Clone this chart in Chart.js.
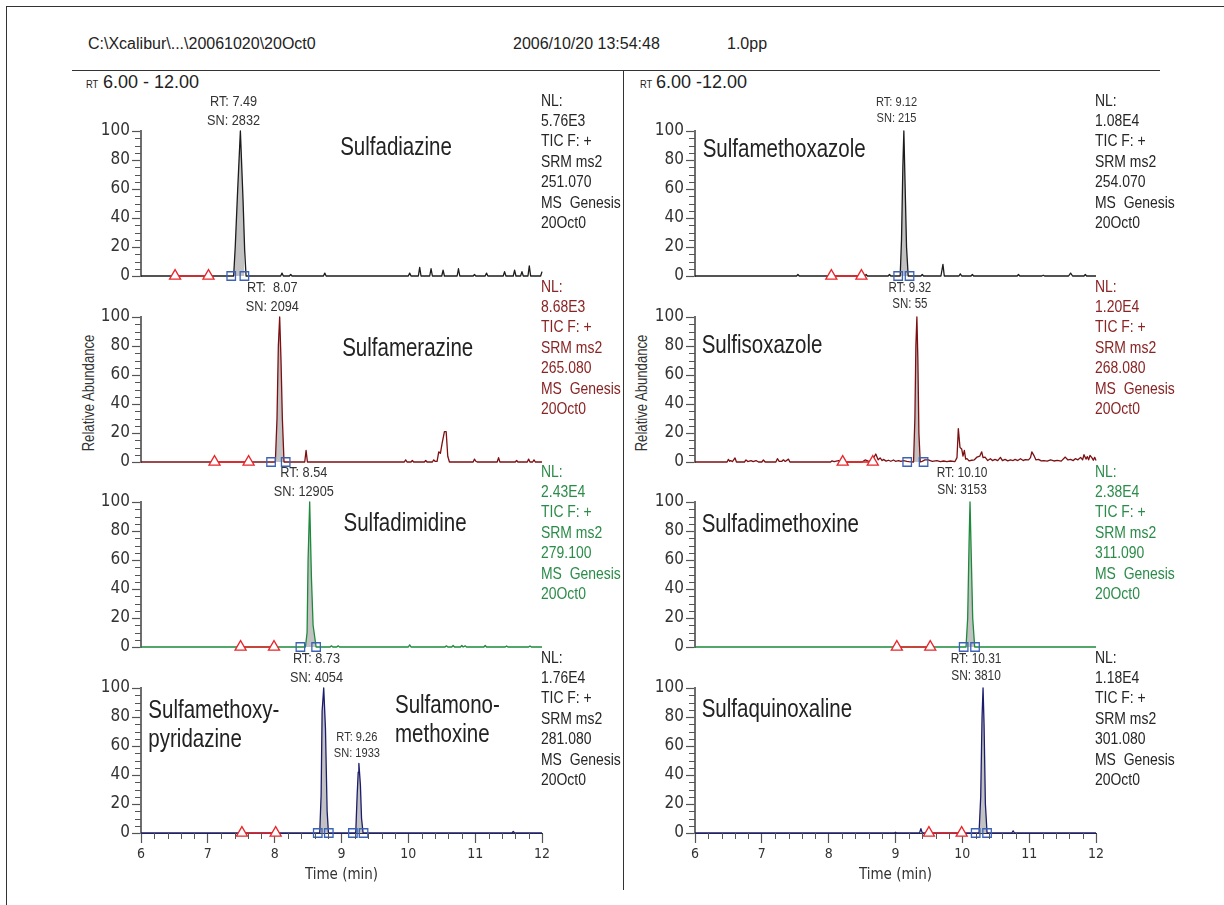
<!DOCTYPE html>
<html>
<head>
<meta charset="utf-8">
<script src="https://cdn.jsdelivr.net/npm/chart.js@4.4.1/dist/chart.umd.min.js"></script>
<style>
  body { margin: 0; background: #fff; }
  #page { position: relative; width: 1224px; height: 905px; overflow: hidden; background: #fff; color: #222; }
  .frame { position: absolute; left: 6px; top: 6px; width: 1240px; height: 930px; border: 1px solid #333; }
  .t { position: absolute; white-space: pre; font-family: "Liberation Sans", Arial, sans-serif; }
  .sq { transform-origin: 0 0; transform: scaleX(0.85); }
  .hline { position: absolute; height: 1px; background: #333; }
  .vline { position: absolute; width: 1px; background: #333; }
  .ylab { position: absolute; white-space: pre; transform: translate(-50%, -50%) rotate(-90deg) scaleX(0.82);
          font-family: "Liberation Sans", Arial, sans-serif; font-size: 16px; color: #333; }
  canvas { position: absolute; }
</style>
</head>
<body>
<div id="page">
  <div class="frame"></div>
  <div class="t" style="left:88px;top:34px;font-size:16px;line-height:20px">C:\Xcalibur\...\20061020\20Oct0</div>
  <div class="t" style="left:513px;top:34px;font-size:16px;line-height:20px">2006/10/20 13:54:48</div>
  <div class="t" style="left:727px;top:34px;font-size:16px;line-height:20px">1.0pp</div>
  <div class="hline" style="left:72px;top:70px;width:1088px"></div>
  <div class="vline" style="left:623px;top:70px;height:820px"></div>
  <div class="t sq" style="left:86px;top:77px;font-size:11px;line-height:14px">RT</div>
  <div class="t" style="left:103px;top:72px;font-size:18px;line-height:20px">6.00 - 12.00</div>
  <div class="t sq" style="left:640px;top:77px;font-size:11px;line-height:14px">RT</div>
  <div class="t" style="left:656px;top:72px;font-size:18px;line-height:20px">6.00 -12.00</div>
  <div class="ylab" style="left:89px;top:393px">Relative Abundance</div>
  <div class="ylab" style="left:642px;top:393px">Relative Abundance</div>
</div>
<script>
const FONT_C = '"DejaVu Sans Condensed", "Liberation Sans", sans-serif';
const FONT_T = '"Liberation Sans", Arial, sans-serif';
const SQUEEZE = 0.82;

// --- traces (time in min, relative abundance in %) ---
const tSulfadiazine = [6, 7.386, 7.41, 7.446, 7.487, 7.527, 7.551, 7.572, 8.09, 8.11, 8.13, 8.22, 8.24, 8.26, 8.73, 8.75, 8.77, 10.0, 10.02, 10.04, 10.15, 10.17, 10.19, 10.32, 10.34, 10.36, 10.5, 10.52, 10.54, 10.73, 10.75, 10.77, 10.97, 10.99, 11.01, 11.15, 11.17, 11.19, 11.42, 11.44, 11.46, 11.57, 11.59, 11.61, 11.68, 11.70, 11.72, 11.79, 11.81, 11.83, 11.98, 12];
const ySulfadiazine = [0, 0, 20, 59, 100, 52, 18, 0, 0, 2, 0, 0, 1, 0, 0, 2, 0, 0, 2, 0, 0, 6, 0, 0, 5, 0, 0, 4, 0, 0, 5, 0, 0, 1, 0, 0, 2, 0, 0, 3, 0, 0, 4, 0, 0, 3, 0, 0, 7, 0, 0, 3];

const tSulfamerazine = [6, 8.01, 8.035, 8.055, 8.075, 8.095, 8.115, 8.14, 8.45, 8.47, 8.49, 9.94, 9.96, 9.98, 10.04, 10.06, 10.08, 10.24, 10.26, 10.28, 10.36, 10.38, 10.40, 10.43, 10.455, 10.48, 10.506, 10.54, 10.566, 10.59, 10.615, 10.97, 10.99, 11.01, 11.03, 11.33, 11.35, 11.37, 11.60, 11.62, 11.64, 11.78, 11.80, 11.82, 11.86, 11.88, 11.90, 12];
const ySulfamerazine = [0, 0, 30, 80, 100, 70, 30, 0, 0, 8, 0, 0, 1.5, 0, 0, 1, 0, 0, 1, 0, 0, 1.5, 0.5, 0.5, 7, 6, 13, 21, 21, 4, 0, 0, 2, 0.5, 0, 0, 3, 0, 0, 1, 0, 0, 2, 0, 0, 1.5, 0, 0];

const tSulfadimidine = [6, 8.46, 8.485, 8.50, 8.524, 8.55, 8.575, 8.62, 8.83, 8.85, 8.87, 8.93, 8.95, 8.97, 10.0, 10.02, 10.04, 10.55, 10.57, 10.59, 10.65, 10.67, 10.69, 10.78, 10.80, 10.82, 10.83, 10.85, 10.87, 11.13, 11.15, 11.17, 11.45, 11.47, 11.49, 11.80, 11.82, 11.84, 12];
const ySulfadimidine = [0, 0, 10, 60, 100, 48, 15, 0, 0, 0.8, 0, 0, 0.8, 0, 0, 1.5, 0, 0, 0.8, 0, 0, 1, 0, 0, 1, 0, 0, 0.8, 0, 0, 1, 0, 0, 0.7, 0, 0, 0.7, 0, 0];

const tSulfamethoxypyridazine = [6, 8.674, 8.695, 8.71, 8.734, 8.76, 8.785, 8.805, 9.213, 9.234, 9.25, 9.26, 9.283, 9.30, 9.323, 11.55, 11.57, 11.59, 12];
const ySulfamethoxypyridazine = [0, 0, 26, 84, 100, 72, 15, 0, 0, 26, 42, 48, 33, 10, 0, 0, 1, 0, 0];

const tSulfamethoxazole = [6, 7.52, 7.54, 7.56, 8.54, 8.56, 8.58, 8.89, 8.91, 8.93, 9.07, 9.09, 9.11, 9.125, 9.14, 9.165, 9.19, 9.38, 9.40, 9.42, 9.68, 9.71, 9.73, 9.95, 9.97, 9.99, 10.13, 10.15, 10.17, 10.82, 10.84, 10.86, 11.19, 11.21, 11.23, 11.59, 11.62, 11.65, 11.82, 11.84, 11.86, 12];
const ySulfamethoxazole = [0, 0, 1, 0, 0, 1, 0, 0, 1, 0, 0, 25, 75, 100, 70, 20, 0, 0, 1, 0, 0, 8, 0, 0, 1.5, 0, 0, 1, 0, 0, 1, 0, 0, 0.5, 0, 0, 2, 0, 0, 1, 0, 0];

const tSulfisoxazole = [6, 6.48, 6.50, 6.52, 6.534, 6.56, 6.599, 6.62, 6.74, 6.763,
  6.79, 6.838, 6.87, 6.913, 6.95, 7.0, 7.023, 7.05, 7.21, 7.233,
  7.26, 7.30, 7.323, 7.35, 7.398, 7.42, 8.03, 8.05, 8.08, 8.15,
  8.2, 8.5, 8.545, 8.6, 8.65, 8.705, 8.74, 8.77, 8.80, 8.82,
  8.86, 8.895, 8.93, 8.97, 9.0, 9.045, 9.08, 9.12, 9.17, 9.2,
  9.27, 9.29, 9.305, 9.32, 9.335, 9.35, 9.37, 9.40, 9.44, 9.49,
  9.55, 9.62, 9.67, 9.72, 9.77, 9.82, 9.89, 9.92, 9.94, 9.965,
  9.99, 10.01, 10.03, 10.05, 10.07, 10.10, 10.14, 10.18, 10.22, 10.26,
  10.29, 10.31, 10.34, 10.38, 10.42, 10.45, 10.49, 10.53, 10.57, 10.60,
  10.64, 10.68, 10.72, 10.76, 10.79, 10.83, 10.87, 10.91, 10.94, 10.99,
  11.02, 11.04, 11.07, 11.10, 11.14, 11.18, 11.22, 11.27, 11.32, 11.37,
  11.42, 11.48, 11.54, 11.58, 11.62, 11.66, 11.69, 11.73, 11.77, 11.80,
  11.82, 11.85, 11.87, 11.89, 11.91, 11.94, 11.96, 11.98, 12];
const ySulfisoxazole = [0, 0, 1.8, 0.5, 1, 0.3, 2.8, 0, 0, 1.4,
  0.3, 1, 0.3, 1, 0, 0, 1.4, 0, 0, 2.3,
  0.5, 0.5, 1.5, 0.4, 2, 0, 0, 0.8, 0.3, 1,
  0, 0, 1.4, 0.5, 1, 5.5, 1.5, 2.8, 1, 1.8,
  0.6, 1.2, 0.5, 1.4, 0.5, 1, 0.4, 1, 0.5, 0.3,
  0, 30, 80, 100, 70, 20, 0, 0.5, 1.5, 1.4,
  0.5, 1, 0.3, 0.7, 0.3, 0.7, 0.3, 3, 23, 10,
  9, 4, 8, 2, 2.3, 0.8, 1.2, 1.5, 3.4, 4,
  7, 3, 3.4, 1, 2.3, 1, 1.8, 1, 3.2, 1,
  1.8, 0.8, 1.4, 1, 1.8, 1, 2.3, 1, 1.6, 1.5,
  3, 7, 4.6, 1.5, 1.8, 0.8, 0.9, 0.6, 1.4, 0.7,
  1.1, 0.6, 3.4, 1.4, 1.8, 1, 2.3, 1.5, 3.2, 1.5,
  5, 2, 3.7, 1.5, 4.6, 2.8, 1.2, 3.2, 1];

const tSulfadimethoxine = [6, 10.055, 10.08, 10.10, 10.115, 10.13, 10.155, 10.185, 12];
const ySulfadimethoxine = [0, 0, 20, 70, 100, 70, 20, 0, 0];

const tSulfaquinoxaline = [6, 8.98, 9.0, 9.02, 9.36, 9.38, 9.40, 10.25, 10.275, 10.295, 10.31, 10.325, 10.345, 10.37, 10.74, 10.76, 10.78, 12];
const ySulfaquinoxaline = [0, 0, 0.5, 0, 0, 3, 0, 0, 25, 80, 100, 75, 20, 0, 0, 1.5, 0, 0];

// --- integration markers (min) ---
const triangleTimes = [[6.51, 7.01], [7.10, 7.61], [7.49, 7.99], [7.51, 8.015], [8.04, 8.49], [8.21, 8.66], [9.02, 9.52], [9.50, 9.99]];
const squareTimes = [[7.35, 7.547], [7.946, 8.165], [8.385, 8.62], [8.645, 8.81, 9.17, 9.33], [9.04, 9.21], [9.175, 9.42], [10.02, 10.19], [10.20, 10.37]];

// --- texts ---
const nameLines = [[['Sulfadiazine']], [['Sulfamerazine']], [['Sulfadimidine']],
  [['Sulfamethoxy-', 'pyridazine'], ['Sulfamono-', 'methoxine']],
  [['Sulfamethoxazole']], [['Sulfisoxazole']], [['Sulfadimethoxine']], [['Sulfaquinoxaline']]];
const peakRT = [['7.49'], [' 8.07'], ['8.54'], ['8.73', '9.26'], ['9.12'], ['9.32'], ['10.10'], ['10.31']];
const peakSN = [['2832'], ['2094'], ['12905'], ['4054', '1933'], ['215'], ['55'], ['3153'], ['3810']];
const nlValues = ['5.76E3', '8.68E3', '2.43E4', '1.76E4', '1.08E4', '1.20E4', '2.38E4', '1.18E4'];
const srmMass = ['251.070', '265.080', '279.100', '281.080', '254.070', '268.080', '311.090', '301.080'];
const xTicks = [6, 7, 8, 9, 10, 11, 12];
const yTicks = [0, 20, 40, 60, 80, 100];

const panelTimes = [tSulfadiazine, tSulfamerazine, tSulfadimidine, tSulfamethoxypyridazine, tSulfamethoxazole, tSulfisoxazole, tSulfadimethoxine, tSulfaquinoxaline];
const panelValues = [ySulfadiazine, ySulfamerazine, ySulfadimidine, ySulfamethoxypyridazine, ySulfamethoxazole, ySulfisoxazole, ySulfadimethoxine, ySulfaquinoxaline];

// --- layout / style ---
const COL_X = [141, 695];
const ROW_Y = [131, 317, 502, 688];
const PLOT_W = 401, PLOT_H = 145;
const X_AXIS_H = 51;
const TRACE_COLORS = ['#1c1c1c', '#7c0f12', '#1d8a3b', '#1c1c6c'];
const NL_COLORS = ['#262626', '#8a2424', '#2b8c49', '#262626'];
const NAME_POS = [[[8.98, 83.5]], [[9.01, 73]], [[9.03, 80]], [[6.11, 79.4], [9.8, 82.9]],
  [[6.115, 82.3]], [[6.1, 75]], [[6.1, 79.5]], [[6.1, 80]]];
const LABEL_STYLE = [[[15.5, null]], [[15.5, null]], [[15.5, null]], [[15.5, null], [13.5, 66]],
  [[13.5, null]], [[14, null]], [[14.5, null]], [[14.5, null]]];

function interp(t, y, x) {
  for (let i = 1; i < t.length; i++) {
    if (x <= t[i]) return y[i - 1] + (y[i] - y[i - 1]) * (x - t[i - 1]) / (t[i] - t[i - 1]);
  }
  return y[y.length - 1];
}

function clipTrace(t, y, a, b) {
  const pts = [{ x: a, y: interp(t, y, a) }];
  t.forEach((tt, i) => { if (tt > a && tt < b) pts.push({ x: tt, y: y[i] }); });
  pts.push({ x: b, y: interp(t, y, b) });
  return pts;
}

// narrow text: regular sans squeezed horizontally
function narrowText(ctx, s, x, y, align) {
  ctx.save();
  ctx.translate(x, y);
  ctx.scale(SQUEEZE, 1);
  ctx.textAlign = align;
  ctx.fillText(s, 0, 0);
  ctx.restore();
}

const minorTicks = {
  id: 'minorTicks',
  afterDraw(chart, args, opts) {
    const { ctx, scales: { x, y } } = chart;
    ctx.save();
    ctx.strokeStyle = '#555';
    ctx.lineWidth = 1;
    ctx.beginPath();
    for (let v = 5; v < 100; v += 5) {
      if (v % 20 === 0) continue;
      const py = Math.round(y.getPixelForValue(v)) + 0.5;
      ctx.moveTo(y.right - 6, py);
      ctx.lineTo(y.right, py);
    }
    if (opts.xAxis) {
      for (let k = 1; k < 30; k++) {
        if (k % 5 === 0) continue;
        const px = Math.round(x.getPixelForValue(6 + k * 0.2)) + 0.5;
        ctx.moveTo(px, x.top);
        ctx.lineTo(px, x.top + 6);
      }
    }
    ctx.stroke();
    ctx.restore();
  }
};

const panelText = {
  id: 'panelText',
  afterDraw(chart, args, o) {
    const { ctx, chartArea: a, scales: { x, y } } = chart;
    ctx.save();
    // compound names
    ctx.textBaseline = 'alphabetic';
    ctx.fillStyle = '#222';
    ctx.font = '25px ' + FONT_T;
    o.names.forEach(n => n.lines.forEach((s, k) => {
      narrowText(ctx, s, x.getPixelForValue(n.t), y.getPixelForValue(n.v) + k * 29, 'left');
    }));
    // NL block
    ctx.textBaseline = 'middle';
    ctx.fillStyle = o.nlColor;
    ctx.font = '17px ' + FONT_T;
    o.nl.forEach((s, k) => narrowText(ctx, s, a.right - 1, a.top - 30 + k * 20.4, 'left'));
    // peak labels
    ctx.fillStyle = '#333';
    o.peaks.forEach(p => {
      ctx.font = p.size + 'px ' + FONT_T;
      const px = x.getPixelForValue(p.rt) - (p.v == null ? 7 : 2);
      const py = p.v == null ? a.top - 29 : y.getPixelForValue(p.v);
      narrowText(ctx, 'RT: ' + p.rtText, px, py, 'center');
      narrowText(ctx, 'SN: ' + p.sn, px, py + p.size * 1.18, 'center');
    });
    ctx.restore();
  }
};

const page = document.getElementById('page');

panelTimes.forEach((t, i) => {
  const col = i < 4 ? 0 : 1;
  const row = i % 4;
  const bottomRow = row === 3;
  const y = panelValues[i];
  const color = TRACE_COLORS[row];

  const cv = document.createElement('canvas');
  cv.width = 60 + PLOT_W + 95;
  cv.height = 45 + PLOT_H + (bottomRow ? X_AXIS_H : 20);
  cv.style.left = (COL_X[col] - 60) + 'px';
  cv.style.top = (ROW_Y[row] - 45) + 'px';
  page.appendChild(cv);

  const sq = squareTimes[i];
  const datasets = [
    {
      data: sq.map(s => ({ x: s, y: 0 })), showLine: false,
      pointStyle: 'rect', pointRadius: 6, pointBorderWidth: 1.3,
      pointBorderColor: '#3b63b5', pointBackgroundColor: 'rgba(0,0,0,0)', clip: false
    },
    {
      data: triangleTimes[i].map(s => ({ x: s, y: 0 })), borderColor: '#e8262b', borderWidth: 1.6,
      pointStyle: 'triangle', pointRadius: 6.4, pointBorderWidth: 1.3,
      pointBorderColor: '#e8262b', pointBackgroundColor: '#fff', clip: false
    },
    {
      data: t.map((tt, k) => ({ x: tt, y: y[k] })), borderColor: color, borderWidth: 1.3,
      pointRadius: 0, tension: 0, borderJoinStyle: 'round', clip: false
    }
  ];
  for (let k = 0; k < sq.length; k += 2) {
    datasets.push({
      data: clipTrace(t, y, sq[k], sq[k + 1]), borderWidth: 0, pointRadius: 0,
      backgroundColor: '#c2c2c2', fill: 'origin', tension: 0, clip: false
    });
  }

  const names = nameLines[i].map((lines, k) => ({ lines, t: NAME_POS[i][k][0], v: NAME_POS[i][k][1] }));
  const peaks = peakRT[i].map((r, k) => ({
    rt: parseFloat(r), rtText: r, sn: peakSN[i][k],
    size: LABEL_STYLE[i][k][0], v: LABEL_STYLE[i][k][1]
  }));
  const nl = ['NL:', nlValues[i], 'TIC F: +', 'SRM ms2', srmMass[i], 'MS  Genesis', '20Oct0'];

  const xScale = bottomRow ? {
    type: 'linear', min: xTicks[0], max: xTicks[xTicks.length - 1],
    afterFit: s => { s.height = X_AXIS_H; },
    afterBuildTicks: s => { s.ticks = xTicks.map(v => ({ value: v })); },
    ticks: { color: '#333', font: { family: FONT_C, size: 14 }, padding: 3, maxRotation: 0, autoSkip: false },
    grid: { drawOnChartArea: false, tickLength: 10, tickColor: '#555', tickWidth: 1.2 },
    border: { color: '#333', width: 1 },
    title: { display: true, text: 'Time (min)', color: '#333', font: { family: FONT_C, size: 15 }, padding: { top: 1, bottom: 0 } }
  } : { type: 'linear', min: 6, max: 12, display: false };

  new Chart(cv, {
    type: 'line',
    data: { datasets },
    options: {
      responsive: false,
      animation: false,
      events: [],
      layout: { padding: { left: 0, right: 95, top: 45, bottom: bottomRow ? 0 : 20 } },
      plugins: {
        legend: { display: false },
        tooltip: { enabled: false },
        minorTicks: { xAxis: bottomRow },
        panelText: { names, nl, nlColor: NL_COLORS[row], peaks }
      },
      scales: {
        x: xScale,
        y: {
          type: 'linear', min: 0, max: 100,
          afterFit: s => { s.width = 60; },
          afterBuildTicks: s => { s.ticks = yTicks.map(v => ({ value: v })); },
          ticks: { color: '#333', font: { family: FONT_C, size: 17 }, padding: 2 },
          grid: { drawOnChartArea: false, tickLength: 9, tickColor: '#555', tickWidth: 1.2 },
          border: { color: '#6e6e6e', width: 2 }
        }
      }
    },
    plugins: [minorTicks, panelText]
  });
});
</script>
</body>
</html>
